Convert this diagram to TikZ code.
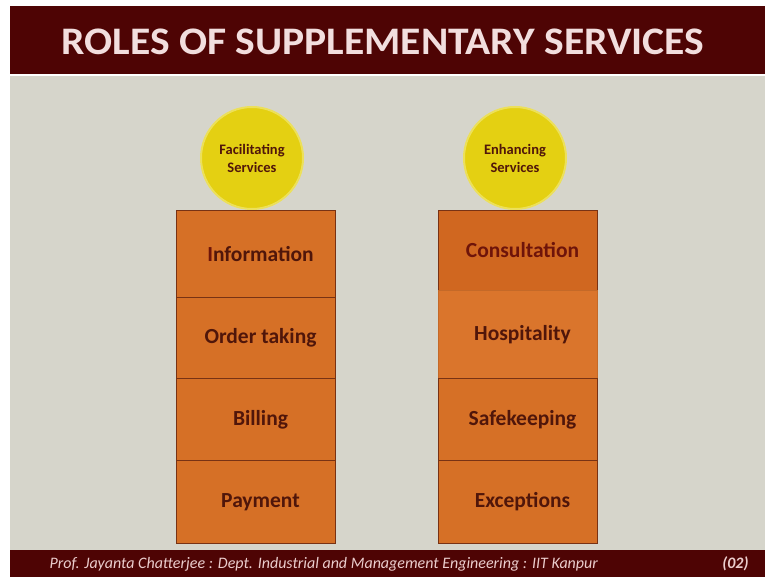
\documentclass[tikz,border=0pt]{standalone}
\usepackage{fontspec}
\setmainfont{Carlito}
\definecolor{hdr}{RGB}{78,4,4}
\definecolor{bg}{RGB}{214,213,203}
\definecolor{cellA}{RGB}{214,112,38}
\definecolor{cellB}{RGB}{218,117,44}
\definecolor{cellC}{RGB}{208,103,32}
\definecolor{cellline}{RGB}{120,50,20}
\definecolor{celltxt}{RGB}{80,22,10}
\definecolor{celltxtR}{RGB}{110,20,10}
\definecolor{sun}{RGB}{228,208,18}
\definecolor{sunedge}{RGB}{236,224,90}
\definecolor{titletxt}{RGB}{242,222,222}
\definecolor{foottxt}{RGB}{235,205,205}
\tikzset{
  cellbox/.style={draw=cellline, line width=1pt, fill=cellA, minimum width=159pt, minimum height=#1, inner sep=0pt, anchor=north, font=\fontsize{21.5}{24}\selectfont\bfseries, text=celltxt},
  cellbox/.default=83pt,
  sunnode/.style={circle, fill=sun, draw=sunedge, line width=2pt, minimum size=102pt, inner sep=0pt, align=center, font=\fontsize{14.5}{18}\selectfont\bfseries, text=celltxt}
}
\newcommand{\sh}{\hspace*{10pt}}
\begin{document}
\begin{tikzpicture}[x=1pt,y=-1pt]
\useasboundingbox (0,0) rectangle (765,577);
\fill[white] (0,0) rectangle (765,577);
\fill[bg] (10,76) rectangle (765,550);
\fill[hdr] (10,6) rectangle (765,74);
\fill[hdr] (10,550) rectangle (765,577);
\node[font=\fontsize{39}{42}\selectfont\bfseries, text=titletxt, xscale=1.065] (title) at (383,42) {ROLES OF SUPPLEMENTARY SERVICES};
\node[font=\fontsize{16}{18}\selectfont\itshape, text=foottxt, anchor=west] (foot) at (46,564) {Prof. Jayanta Chatterjee : Dept. Industrial and Management Engineering : IIT Kanpur};
\node[font=\fontsize{16}{18}\selectfont\itshape\bfseries, text=foottxt, anchor=east] (page) at (752,564) {(02)};
% circles
\node[sunnode] (fac) at (252,158) {Facilitating\\Services};
\node[sunnode] (enh) at (515,158) {Enhancing\\Services};
% left stack
\node[cellbox=87pt] (info) at (255.5,210) {\sh\textcolor{celltxtR}{I}nformation};
\node[cellbox=81pt] (order) at (255.5,297) {\sh Order taking};
\node[cellbox=82pt] (bill) at (255.5,378) {\sh Billing};
\node[cellbox=83pt] (pay) at (255.5,460) {\sh Payment};
% right stack
\node[cellbox=80pt, fill=cellC, text=celltxtR] (cons) at (517.5,210) {\sh Consultation};
\node[cellbox=88pt, fill=cellB, draw=cellB!90!black] (hosp) at (517.5,290) {\sh Hospitality};
\node[cellbox=82pt] (safe) at (517.5,378) {\sh Safekeeping};
\node[cellbox=83pt] (exc) at (517.5,460) {\sh Exceptions};
\end{tikzpicture}
\end{document}
